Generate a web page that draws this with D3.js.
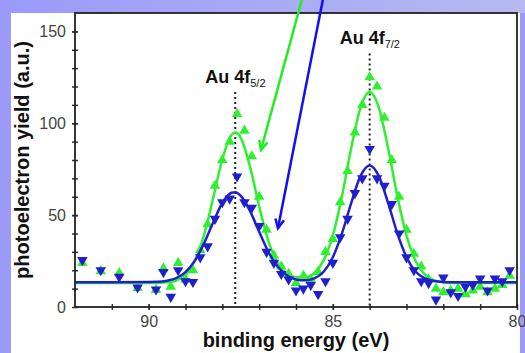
<!DOCTYPE html>
<html>
<head>
<meta charset="utf-8">
<script src="https://cdn.jsdelivr.net/npm/d3@7"></script>
<style>
  body { margin: 0; background: #9c9cf8; }
  svg { display: block; font-family: "Liberation Sans", Arial, sans-serif; }
</style>
</head>
<body>
<svg id="chart" width="525" height="353"></svg>
<script>
// measured points (binding energy in eV, yield in a.u.)
const energy = [91.8, 91.3, 90.8, 90.3, 89.8, 89.6, 89.4, 89.2, 89.0, 88.8, 88.6, 88.4, 88.2, 88.0, 87.8, 87.6, 87.4, 87.2, 87.0, 86.8, 86.6, 86.4, 86.2, 86.0, 85.8, 85.6, 85.4, 85.2, 85.0, 84.8, 84.6, 84.4, 84.2, 84.0, 83.8, 83.6, 83.4, 83.2, 83.0, 82.8, 82.6, 82.4, 82.2, 82.0, 81.8, 81.6, 81.4, 81.2, 81.0, 80.8, 80.6, 80.4, 80.2];
const greenYield = [24, 19.5, 18.5, 10.3, 9.3, 21, 11, 24, 15, 20, 31, 45, 66, 80, 90, 105, 96, 82, 60, 42, 28, 22, 18, 13, 17, 15, 19, 30, 37, 57, 74, 95, 110, 125, 120, 103, 80, 60, 42, 29, 22, 15, 10, 8, 9, 10, 7, 9, 11, 8, 10, 12, 17];
const blueYield = [25.5, 20, 16.4, 10.6, 9.5, 19, 5.5, 20, 14, 13.6, 27, 33, 48, 57, 59, 71, 57, 54, 44, 30, 24, 18, 15, 9, 10, 12, 7, 14, 24, 38, 48, 62, 70, 86, 70, 66, 56, 40, 27, 20, 14, 13, 4, 16, 8, 6, 11, 12, 15.5, 9, 15.5, 14, 20];

// fitted curves
const fitEnergy = [92, 91, 90, 89.75, 89.5, 89.25, 89.0, 88.75, 88.5, 88.25, 88.0, 87.75, 87.65, 87.5, 87.25, 87.0, 86.75, 86.5, 86.25, 86.0, 85.75, 85.5, 85.25, 85.0, 84.75, 84.5, 84.25, 84.0, 83.75, 83.5, 83.25, 83.0, 82.75, 82.5, 82.25, 82.0, 81.75, 81, 80];
const greenFit = [13, 13, 13.0, 13.1, 13.4, 14.4, 17.5, 24.9, 38.9, 59.2, 80.4, 93.7, 95.0, 92.1, 76.5, 54.8, 35.8, 24.0, 18.2, 16.2, 16.2, 18.6, 25.4, 38.9, 60.6, 86.5, 108.4, 117, 108.4, 86.5, 60.6, 38.9, 24.9, 17.6, 14.5, 13.4, 13.1, 13, 13];
const blueFit = [13.5, 13.5, 13.6, 13.7, 14.3, 15.7, 19.0, 25.1, 34.5, 46.0, 56.6, 62.2, 62.5, 60.5, 52.3, 40.9, 30.0, 22.0, 17.3, 15.0, 14.5, 15.6, 19.2, 27.1, 40.2, 56.7, 71.2, 77.0, 71.2, 56.7, 40.2, 27.1, 19.2, 15.6, 14.1, 13.6, 13.5, 13.5, 13.5];

const xTicks = [90, 85, 80];
const yTicks = [0, 50, 100, 150];

// peak markers: position, top of dotted line, label
const peakEnergy = [87.65, 84.0];
const peakTop = [117, 138];
const peakName = ["Au 4f", "Au 4f"];
const peakSub = ["5/2", "7/2"];

const greenColor = "#2ef02e";
const blueColor = "#1f1fd0";

const svg = d3.select("#chart");

// background panels
const defs = svg.append("defs");
const grad = defs.append("linearGradient").attr("id", "topband");
grad.append("stop").attr("offset", "0%").attr("stop-color", "#9a9afa");
grad.append("stop").attr("offset", "100%").attr("stop-color", "#b6baf0");
svg.append("rect").attr("width", 525).attr("height", 13).attr("fill", "url(#topband)");
svg.append("rect").attr("x", 11).attr("y", 13).attr("width", 509).attr("height", 340).attr("fill", "#fff");

const plot = { left: 75, right: 517, top: 13, bottom: 307 };

const x = d3.scaleLinear().domain([92, 80]).range([plot.left, plot.right]);
const y = d3.scaleLinear().domain([0, 160]).range([plot.bottom, plot.top]);

defs.append("clipPath").attr("id", "clip")
  .append("rect")
  .attr("x", plot.left).attr("y", plot.top)
  .attr("width", plot.right - plot.left).attr("height", plot.bottom - plot.top);

// dotted peak lines
peakEnergy.forEach((e, i) => {
  svg.append("line")
    .attr("x1", x(e)).attr("x2", x(e))
    .attr("y1", y(peakTop[i])).attr("y2", y(0))
    .attr("stroke", "#222").attr("stroke-width", 2)
    .attr("stroke-dasharray", "2,3");
  const t = svg.append("text")
    .attr("x", x(e) - 30)
    .attr("y", y(peakTop[i]) - 9)
    .attr("font-size", 18).attr("font-weight", "bold").attr("fill", "#111");
  t.append("tspan").text(peakName[i]);
  t.append("tspan").attr("font-size", 11).attr("font-weight", "normal")
    .attr("dy", 4).text(peakSub[i]);
});

const data = energy.map((e, i) => ({ e, g: greenYield[i], b: blueYield[i] }));
const area = svg.append("g").attr("clip-path", "url(#clip)");

const tri = d3.symbol().type(d3.symbolTriangle).size(48);

const line = d3.line().curve(d3.curveMonotoneX);

area.append("g").selectAll("path")
  .data(data).enter().append("path")
  .attr("d", tri)
  .attr("transform", d => `translate(${x(d.e)},${y(d.g)})`)
  .attr("fill", greenColor);

area.append("path")
  .attr("d", line(fitEnergy.map((e, i) => [x(e), y(greenFit[i])])))
  .attr("fill", "none").attr("stroke", greenColor).attr("stroke-width", 2.5);

area.append("g").selectAll("path")
  .data(data).enter().append("path")
  .attr("d", tri)
  .attr("transform", d => `translate(${x(d.e)},${y(d.b)}) rotate(180)`)
  .attr("fill", blueColor);

area.append("path")
  .attr("d", line(fitEnergy.map((e, i) => [x(e), y(blueFit[i])])))
  .attr("fill", "none").attr("stroke", blueColor).attr("stroke-width", 2.5);

// axes
const crossTicks = (g, dir) => {
  g.select(".domain").remove();
  g.selectAll(".tick line").attr(dir + "1", -3).attr(dir + "2", 3)
    .attr("stroke", "#333").attr("stroke-width", 1.5);
  g.selectAll(".tick text").attr("font-size", 16).attr("fill", "#444")
    .attr("font-family", "Liberation Sans, Arial, sans-serif");
};

svg.append("g").attr("transform", `translate(0,${plot.bottom})`)
  .call(d3.axisBottom(x).tickValues(d3.range(91, 80, -1)).tickFormat("").tickSize(3))
  .call(g => crossTicks(g, "y"));
svg.append("g").attr("transform", `translate(0,${plot.bottom})`)
  .call(d3.axisBottom(x).tickValues(xTicks).tickFormat(d3.format("d")).tickSize(3).tickPadding(6))
  .call(g => crossTicks(g, "y"));

svg.append("g").attr("transform", `translate(${plot.left},0)`)
  .call(d3.axisLeft(y).tickValues(d3.range(10, 160, 10)).tickFormat("").tickSize(3))
  .call(g => crossTicks(g, "x"));
svg.append("g").attr("transform", `translate(${plot.left},0)`)
  .call(d3.axisLeft(y).tickValues(yTicks).tickFormat(d3.format("d")).tickSize(3).tickPadding(6))
  .call(g => crossTicks(g, "x"));

// frame
svg.append("rect")
  .attr("x", plot.left).attr("y", plot.top)
  .attr("width", plot.right - plot.left).attr("height", plot.bottom - plot.top)
  .attr("fill", "none").attr("stroke", "#222").attr("stroke-width", 1.8);

// axis titles
svg.append("text")
  .attr("x", (plot.left + plot.right) / 2).attr("y", 347)
  .attr("text-anchor", "middle").attr("font-size", 20).attr("font-weight", "bold")
  .attr("fill", "#111").text("binding energy (eV)");
svg.append("text")
  .attr("transform", `translate(29,${(plot.top + plot.bottom) / 2}) rotate(-90)`)
  .attr("text-anchor", "middle").attr("font-size", 20).attr("font-weight", "bold")
  .attr("fill", "#111").text("photoelectron yield (a.u.)");

// arrows pointing at the two curves
const arrowStart = [[85.84, 167.3], [85.27, 167.3]];
const arrowEnd = [[86.95, 85.5], [86.49, 42.9]];
const arrowColor = ["#22ee22", "#1010f0"];
arrowColor.forEach((c, i) => {
  const x1 = x(arrowStart[i][0]), y1 = y(arrowStart[i][1]);
  const x2 = x(arrowEnd[i][0]), y2 = y(arrowEnd[i][1]);
  svg.append("line")
    .attr("x1", x1).attr("y1", y1).attr("x2", x2).attr("y2", y2)
    .attr("stroke", c).attr("stroke-width", 2.5);
  const a = Math.atan2(y2 - y1, x2 - x1);
  const L = 10, w = 0.45;
  svg.append("path")
    .attr("d", `M${x2 - L * Math.cos(a - w)},${y2 - L * Math.sin(a - w)} L${x2},${y2} L${x2 - L * Math.cos(a + w)},${y2 - L * Math.sin(a + w)}`)
    .attr("fill", "none").attr("stroke", c).attr("stroke-width", 2.5);
});
</script>
</body>
</html>
